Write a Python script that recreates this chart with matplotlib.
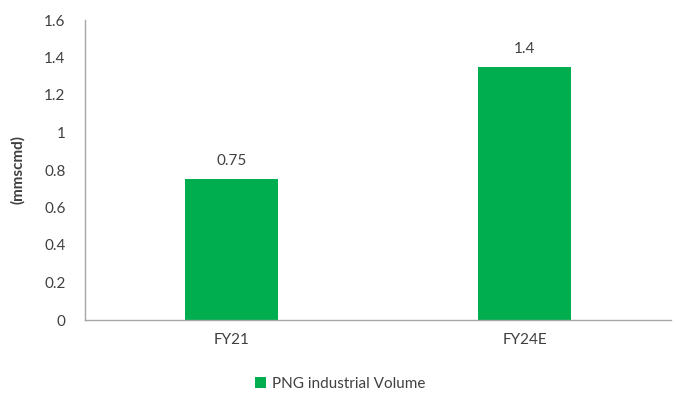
import matplotlib
matplotlib.use("Agg")
import matplotlib.pyplot as plt
from matplotlib.patches import Patch

categories = ["FY21", "FY24E"]
values = [0.75, 1.35]
value_labels = ["0.75", "1.4"]
yticks = [0, 0.2, 0.4, 0.6, 0.8, 1.0, 1.2, 1.4, 1.6]
ytick_labels = ["0", "0.2", "0.4", "0.6", "0.8", "1", "1.2", "1.4", "1.6"]
series_name = "PNG industrial Volume"

plt.rcParams['font.family'] = ['Lato', 'DejaVu Sans']
text_color = "#404040"
bar_color = "#00AD4F"

fig = plt.figure(figsize=(6.76, 3.94), dpi=100)
ax = fig.add_axes([85/676, 74/394, 586/676, 300/394])

x = list(range(len(categories)))
bars = ax.bar(x, values, width=0.314, color=bar_color)
ax.set_xlim(-0.5, len(categories) - 0.5)
ax.set_ylim(0, 1.6)
ax.set_yticks(yticks)
ax.set_yticklabels(ytick_labels)
ax.set_xticks(x)
ax.set_xticklabels(categories)
ax.tick_params(axis='both', length=0, labelsize=11, colors=text_color)
ax.tick_params(axis='y', pad=14)
ax.tick_params(axis='x', pad=9)
for s in ["top", "right"]:
    ax.spines[s].set_visible(False)
for s in ["left", "bottom"]:
    ax.spines[s].set_color("#A6A6A6")
    ax.spines[s].set_linewidth(1)

for b, lab in zip(bars, value_labels):
    ax.annotate(lab, (b.get_x() + b.get_width()/2, b.get_height()),
                xytext=(0, 8), textcoords="offset points", ha="center", va="bottom",
                fontsize=11, color=text_color)

ax.set_ylabel("(mmscmd)", fontsize=11, fontweight="bold", color=text_color, labelpad=14)

handle = Patch(facecolor=bar_color, edgecolor="none")
fig.legend([handle], [series_name], loc="center", bbox_to_anchor=(340/676, 1 - 384/394),
           frameon=False, fontsize=11, handlelength=0.7, handleheight=0.7,
           handletextpad=0.4, labelcolor=text_color)

fig.savefig("out.png", dpi=100)
